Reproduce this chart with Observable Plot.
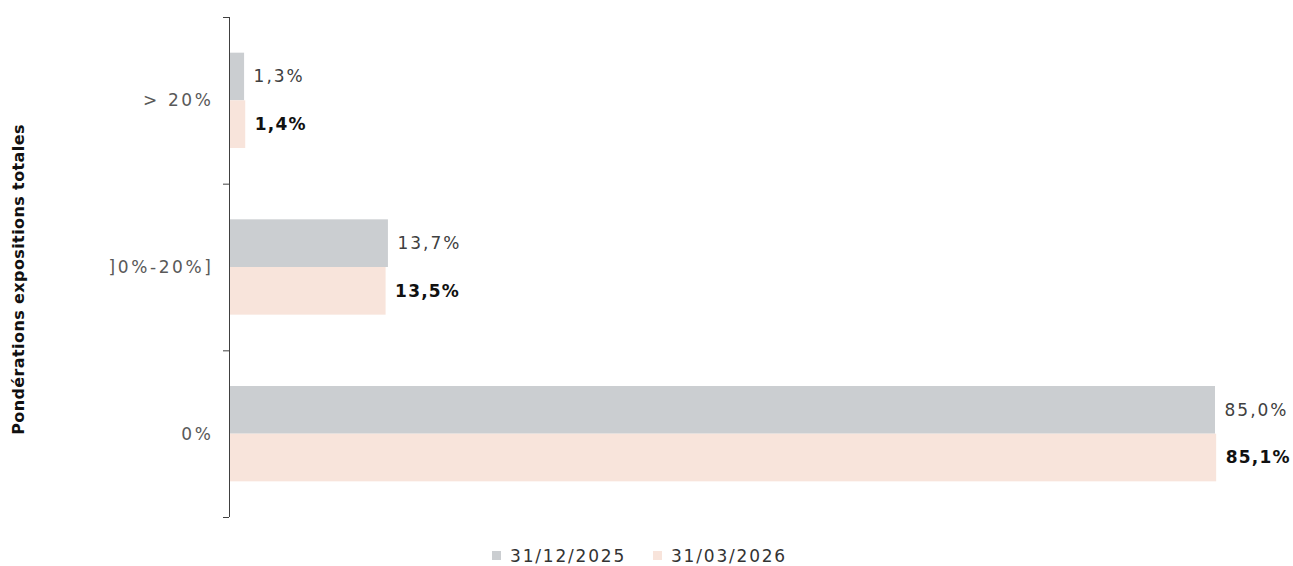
<!DOCTYPE html>
<html>
<head>
<meta charset="utf-8">
<script src="https://cdn.jsdelivr.net/npm/d3@7"></script>
<script src="https://cdn.jsdelivr.net/npm/@observablehq/plot@0.6"></script>
<style>
  html, body { margin: 0; padding: 0; background: #fff; }
  body { width: 1293px; height: 566px; overflow: hidden; font-family: "DejaVu Sans", Verdana, sans-serif; }
  #legend { display: flex; justify-content: center; align-items: center; gap: 27px; height: 31px; padding-top: 5px;
            font-size: 17px; letter-spacing: 1.8px; color: #333; margin-left: -14px; }
  #legend .item { display: flex; align-items: center; gap: 9px; }
  #legend .sw { width: 9px; height: 9px; display: inline-block; }
</style>
</head>
<body>
<div id="chart"></div>
<div id="legend"></div>
<script>
const categories = ["> 20%", "]0%-20%]", "0%"];
const series = ["31/12/2025", "31/03/2026"];
const values2025 = [1.3, 13.7, 85.0];
const values2026 = [1.4, 13.5, 85.1];
const colors = ["#cbced1", "#f8e4db"];
const yAxisTitle = "Pondérations expositions totales";

const seriesValues = [values2025, values2026];
const rows = [];
categories.forEach((c, i) => {
  series.forEach((s, k) => {
    rows.push({category: c, i, series: s, k, value: seriesValues[k][i]});
  });
});

const bw = 0.286; // bar thickness as fraction of a category band
const y1 = d => d.i + 0.5 - bw + d.k * bw;
const y2 = d => y1(d) + bw;
const ym = d => y1(d) + bw / 2;
const fmt = v => v.toFixed(1).replace(".", ",") + "%";

const chart = Plot.plot({
  width: 1293,
  height: 535,
  marginLeft: 229,
  marginRight: 20,
  marginTop: 17,
  marginBottom: 18,
  style: {fontFamily: "'DejaVu Sans', Verdana, sans-serif", fontSize: "17px", color: "#595959", background: "#fff"},
  x: {domain: [0, 90], axis: null},
  y: {domain: [0, categories.length], reverse: true},
  color: {domain: series, range: colors},
  marks: [
    Plot.rectX(rows, {x1: 0, x2: "value", y1, y2, fill: "series"}),
    Plot.ruleX([0], {stroke: "#404040", strokeWidth: 1}),
    Plot.axisY(d3.range(categories.length + 1), {tickSize: 6, tickFormat: () => "", stroke: "#404040", label: null}),
    Plot.axisY(d3.range(categories.length).map(i => i + 0.5), {
      tickSize: 0, tickPadding: 16, tickFormat: d => categories[Math.floor(d)],
      fill: "#595959",
      label: yAxisTitle, labelAnchor: "center", labelArrow: "none", labelOffset: 216
    }),
    Plot.text(rows.filter(d => d.k === 0), {x: "value", y: ym, text: d => fmt(d.value), dx: 9, textAnchor: "start", fill: "#404040"}),
    Plot.text(rows.filter(d => d.k === 1), {x: "value", y: ym, text: d => fmt(d.value), dx: 9, textAnchor: "start", fill: "#111", fontWeight: "bold"})
  ]
});
document.getElementById("chart").appendChild(chart);

const svg = d3.select(chart);
svg.selectAll("g[aria-label='text'] text").style("letter-spacing", "2px");
svg.selectAll("g[aria-label='text']").filter((d, i, n) => n[i].getAttribute("font-weight") === "bold")
  .selectAll("text").style("letter-spacing", "1.2px");
svg.selectAll("g[aria-label='y-axis tick label'] text").style("letter-spacing", "2.6px");
svg.selectAll("g[aria-label='y-axis label']").each(function() {
  const t = this.getAttribute("transform") || "";
  this.setAttribute("transform", t + " translate(-1,12)");
}).selectAll("text")
  .style("font-weight", "bold").style("fill", "#111").style("font-size", "16px").style("letter-spacing", "0.4px");

const legend = d3.select("#legend");
series.forEach((s, k) => {
  const it = legend.append("div").attr("class", "item");
  it.append("span").attr("class", "sw").style("background", colors[k]);
  it.append("span").text(s);
});
</script>
</body>
</html>
